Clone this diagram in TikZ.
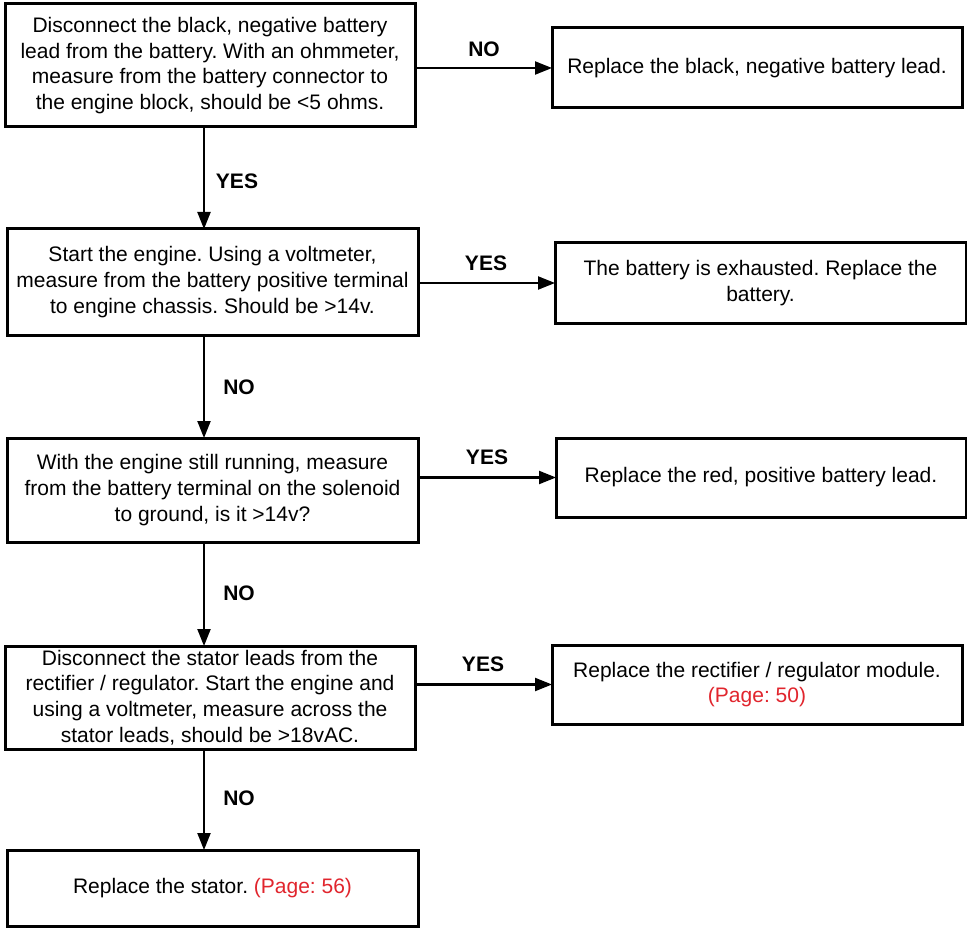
\documentclass[tikz,border=0pt]{standalone}
\usepackage{fontspec}
\setmainfont{Liberation Sans}
\usetikzlibrary{arrows.meta}
\definecolor{pagered}{RGB}{225,37,45}
\frenchspacing
\begin{document}
\begin{tikzpicture}[x=1pt,y=-1pt,
  box/.style={draw=black,line width=3pt,fill=white,inner sep=0pt,outer sep=0pt,
    align=center,font=\fontsize{21}{25.6}\selectfont},
  arr/.style={line width=2.2pt,-{Triangle[length=17pt,width=13pt]}},
  lbl/.style={font=\fontsize{21}{25}\selectfont\bfseries,inner sep=0pt}]
\useasboundingbox (0,0) rectangle (967,928);
\fill[white] (0,0) rectangle (967,928);
\node[box,minimum width=410pt,minimum height=123pt] (b1) at (210,65.5)
  {Disconnect the black, negative battery\\lead from the battery. With an ohmmeter,\\measure from the battery connector to\\the engine block, should be <5 ohms.};
\node[box,minimum width=410pt,minimum height=80pt] (r1) at (757,68)
  {Replace the black, negative battery lead.};
\node[box,minimum width=411pt,minimum height=106pt] (b2) at (212.5,282)
  {Start the engine. Using a voltmeter,\\measure from the battery positive terminal\\to engine chassis. Should be >14v.};
\node[box,minimum width=411pt,minimum height=80pt] (r2) at (760.5,283)
  {The battery is exhausted. Replace the\\battery.};
\node[box,minimum width=411pt,minimum height=104pt] (b3) at (212.5,490)
  {With the engine still running, measure\\from the battery terminal on the solenoid\\to ground, is it >14v?};
\node[box,minimum width=410pt,minimum height=79pt] (r3) at (761,477.5)
  {Replace the red, positive battery lead.};
\node[box,minimum width=410pt,minimum height=103pt] (b4) at (210,697.5)
  {Disconnect the stator leads from the\\rectifier / regulator. Start the engine and\\using a voltmeter, measure across the\\stator leads, should be >18vAC.};
\node[box,minimum width=410pt,minimum height=79pt] (r4) at (757,684.5)
  {Replace the rectifier / regulator module.\\{\color{pagered}(Page: 50)}};
\node[box,minimum width=411pt,minimum height=76pt] (b5) at (212.5,888)
  {Replace the stator. {\color{pagered}(Page: 56)}};
\coordinate (ax) at (204,0);
\draw[arr] (b1.east |- r1.west) -- (r1.west);
\draw[arr] (b2.east |- r2.west) -- (r2.west);
\draw[arr] (b3.east |- r3.west) -- (r3.west);
\draw[arr] (b4.east |- r4.west) -- (r4.west);
\draw[arr] (b1.south -| ax) -- (b2.north -| ax);
\draw[arr] (b2.south -| ax) -- (b3.north -| ax);
\draw[arr] (b3.south -| ax) -- (b4.north -| ax);
\draw[arr] (b4.south -| ax) -- (b5.north -| ax);
\node[lbl] (l1) at (484,49) {NO};
\node[lbl] (l2) at (237,181) {YES};
\node[lbl] (l3) at (486,263) {YES};
\node[lbl] (l4) at (239,387) {NO};
\node[lbl] (l5) at (487,457) {YES};
\node[lbl] (l6) at (239,593) {NO};
\node[lbl] (l7) at (483,664) {YES};
\node[lbl] (l8) at (239,798) {NO};
\end{tikzpicture}
\end{document}
